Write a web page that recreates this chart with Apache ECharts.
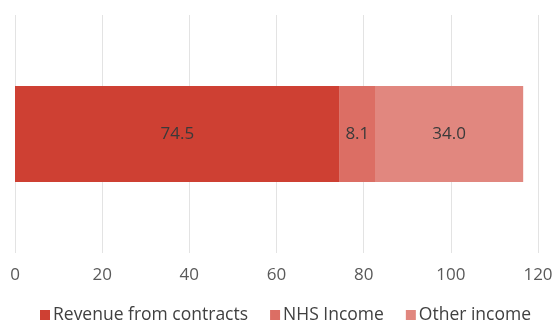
<!DOCTYPE html>
<html>
<head>
<meta charset="utf-8">
<script src="https://cdn.jsdelivr.net/npm/echarts@6/dist/echarts.min.js"></script>
<style>
  html, body { margin: 0; padding: 0; background: #fff; }
  #chart { width: 556px; height: 322px; }
</style>
</head>
<body>
<div id="chart"></div>
<script>
// Income breakdown, single stacked bar
const categories = ['Income'];
const seriesNames = ['Revenue from contracts', 'NHS Income', 'Other income'];
const revenueFromContracts = [74.5];
const nhsIncome = [8.1];
const otherIncome = [34.0];
const xTicks = [0, 20, 40, 60, 80, 100, 120];

const colors = ['#CE4033', '#DC6E64', '#E1877F'];
const fontFamily = '"Open Sans", "Noto Sans", sans-serif';

const seriesData = [revenueFromContracts, nhsIncome, otherIncome];

const chart = echarts.init(document.getElementById('chart'), null, { renderer: 'canvas' });
chart.setOption({
  animation: false,
  textStyle: { fontFamily: fontFamily },
  color: colors,
  grid: { left: 15, right: 18, top: 15, bottom: 69, containLabel: false },
  xAxis: {
    type: 'value',
    min: xTicks[0],
    max: xTicks[xTicks.length - 1],
    interval: xTicks[1] - xTicks[0],
    axisLine: { show: false },
    axisTick: { show: false },
    splitLine: { show: true, lineStyle: { color: '#E3E3E3', width: 1 } },
    axisLabel: { color: '#595959', fontSize: 17, margin: 14, fontFamily: fontFamily }
  },
  yAxis: {
    type: 'category',
    data: categories,
    show: false
  },
  legend: {
    data: seriesNames,
    left: 35,
    top: 300,
    itemWidth: 10,
    itemHeight: 10,
    itemGap: 22,
    icon: 'rect',
    textStyle: {
      color: '#404040', fontSize: 17.5, lineHeight: 20,
      fontFamily: fontFamily, padding: [0, 0, 0, -2]
    }
  },
  series: seriesNames.map((name, i) => ({
    name: name,
    type: 'bar',
    stack: 'total',
    barWidth: 96,
    data: seriesData[i],
    itemStyle: { color: colors[i] },
    label: {
      show: true,
      position: 'inside',
      color: '#3A3A3A',
      fontSize: 17,
      fontFamily: fontFamily,
      formatter: p => p.value.toFixed(1)
    }
  }))
});
</script>
</body>
</html>
